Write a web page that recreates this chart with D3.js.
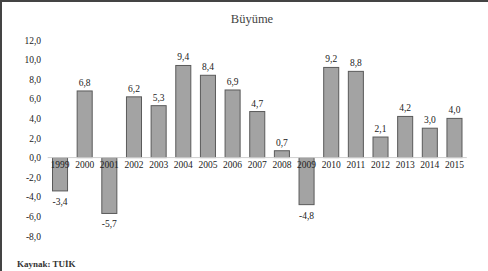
<!DOCTYPE html>
<html>
<head>
<meta charset="utf-8">
<script src="https://cdn.jsdelivr.net/npm/d3@7"></script>
<style>
  body { margin: 0; background: #fff; }
  text { font-family: "Liberation Serif", "Times New Roman", serif; }
</style>
</head>
<body>
<div id="chart-area"></div>
<script>
// data
var years = ["1999", "2000", "2001", "2002", "2003", "2004", "2005", "2006", "2007",
             "2008", "2009", "2010", "2011", "2012", "2013", "2014", "2015"];
var growth = [-3.4, 6.8, -5.7, 6.2, 5.3, 9.4, 8.4, 6.9, 4.7, 0.7, -4.8, 9.2, 8.8, 2.1, 4.2, 3.0, 4.0];
var yTicks = [12, 10, 8, 6, 4, 2, 0, -2, -4, -6, -8];

var width = 488, height = 271;

// turkish style number: 1 decimal, comma, plain hyphen
function fmt(d) {
    return d.toFixed(1).replace(".", ",");
}

var svg = d3.select("#chart-area")
    .append("svg")
    .attr("width", width)
    .attr("height", height);

// frame (top + left edge only)
svg.append("rect").attr("x", 0).attr("y", 0).attr("width", width).attr("height", 2).attr("fill", "#444");
svg.append("rect").attr("x", 0).attr("y", 0).attr("width", 2).attr("height", height).attr("fill", "#444");

var x = d3.scaleBand()
    .domain(years)
    .range([47.7, 466.8])
    .paddingInner(0.39)
    .paddingOuter(0.195);

var y = d3.scaleLinear()
    .domain([-8, 12])
    .range([236, 40]);

// title
svg.append("text")
    .attr("x", 252)
    .attr("y", 23)
    .attr("text-anchor", "middle")
    .attr("font-size", 12.5)
    .attr("fill", "#444")
    .text("Büyüme");

// y axis labels
var yAxis = d3.axisLeft(y)
    .tickValues(yTicks)
    .tickSize(0)
    .tickPadding(0)
    .tickFormat(fmt);

var gy = svg.append("g")
    .attr("transform", "translate(41,0)")
    .call(yAxis);
gy.select(".domain").remove();
gy.selectAll("text")
    .attr("font-family", "Liberation Serif, serif")
    .attr("font-size", 9.5)
    .attr("fill", "#222");

// bars
svg.selectAll(".bar")
    .data(growth)
    .enter()
    .append("rect")
    .attr("class", "bar")
    .attr("x", function (d, i) { return x(years[i]); })
    .attr("y", function (d) { return y(Math.max(0, d)); })
    .attr("width", x.bandwidth())
    .attr("height", function (d) { return Math.abs(y(d) - y(0)); })
    .attr("fill", "#a3a3a3")
    .attr("stroke", "#5a5a5a")
    .attr("stroke-width", 1);

// zero line
svg.append("line")
    .attr("x1", 47.7).attr("x2", 466.8)
    .attr("y1", y(0)).attr("y2", y(0))
    .attr("stroke", "#cfcfcf")
    .attr("stroke-width", 1);

// category labels
var xAxis = d3.axisBottom(x).tickSize(0).tickPadding(0);
var gx = svg.append("g")
    .attr("transform", "translate(0," + (y(0) + 4) + ")")
    .call(xAxis);
gx.select(".domain").remove();
gx.selectAll("text")
    .attr("font-family", "Liberation Serif, serif")
    .attr("font-size", 9.5)
    .attr("fill", "#222");

// value labels
svg.selectAll(".val")
    .data(growth)
    .enter()
    .append("text")
    .attr("class", "val")
    .attr("x", function (d, i) { return x(years[i]) + x.bandwidth() / 2; })
    .attr("y", function (d) { return d >= 0 ? y(d) - 5 : y(d) + 14; })
    .attr("text-anchor", "middle")
    .attr("font-size", 9.5)
    .attr("fill", "#222")
    .text(fmt);

// source
svg.append("text")
    .attr("x", 17)
    .attr("y", 267)
    .attr("font-size", 9)
    .attr("font-weight", "bold")
    .attr("fill", "#333")
    .text("Kaynak: TUİK");
</script>
</body>
</html>
